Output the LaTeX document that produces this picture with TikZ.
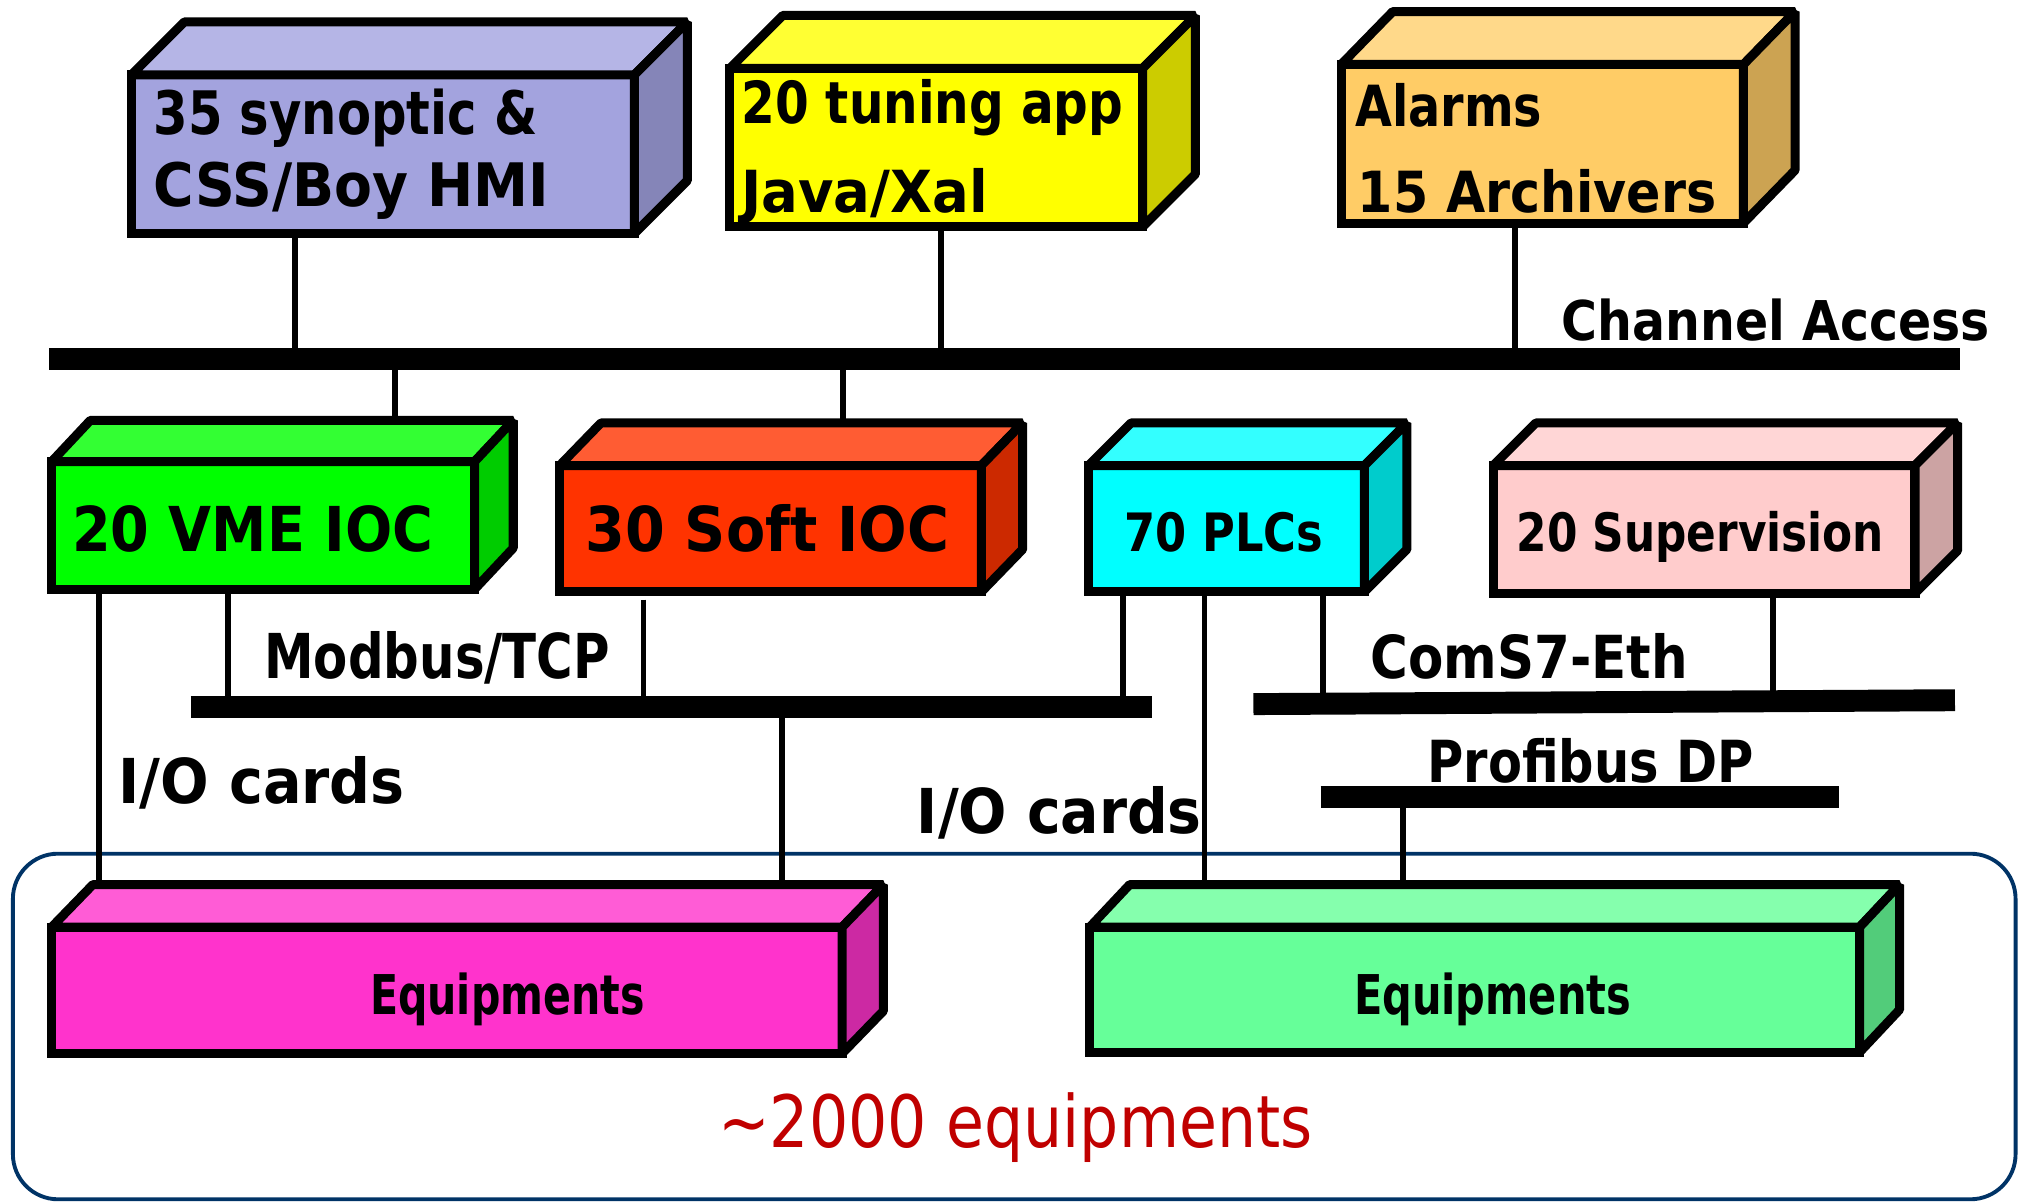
\documentclass[tikz,border=0pt]{standalone}
\usepackage{fontspec}
\setmainfont{DejaVu Sans}
\definecolor{synF}{HTML}{A3A3DE}\definecolor{synT}{HTML}{B5B5E6}\definecolor{synS}{HTML}{8585B8}
\definecolor{tunF}{HTML}{FFFF00}\definecolor{tunT}{HTML}{FFFF33}\definecolor{tunS}{HTML}{CCCC00}
\definecolor{almF}{HTML}{FFCC66}\definecolor{almT}{HTML}{FFD98A}\definecolor{almS}{HTML}{CCA352}
\definecolor{vmeF}{HTML}{00FF00}\definecolor{vmeT}{HTML}{33FF33}\definecolor{vmeS}{HTML}{00CC00}
\definecolor{sofF}{HTML}{FF3300}\definecolor{sofT}{HTML}{FF5C33}\definecolor{sofS}{HTML}{CC2900}
\definecolor{plcF}{HTML}{00FFFF}\definecolor{plcT}{HTML}{33FFFF}\definecolor{plcS}{HTML}{00CCCC}
\definecolor{supF}{HTML}{FFCCCC}\definecolor{supT}{HTML}{FFD6D6}\definecolor{supS}{HTML}{CCA3A3}
\definecolor{eqaF}{HTML}{FF33CC}\definecolor{eqaT}{HTML}{FF5CD6}\definecolor{eqaS}{HTML}{CC29A3}
\definecolor{eqbF}{HTML}{66FF99}\definecolor{eqbT}{HTML}{85FFAD}\definecolor{eqbS}{HTML}{52CC7A}
\definecolor{framecol}{HTML}{003366}
\definecolor{redtext}{HTML}{C00000}
\tikzset{
  frontface/.style={draw, rectangle, line width=7pt, line join=miter, outer sep=0pt, inner sep=0pt},
  sideface/.style={draw, line width=7pt, line join=bevel},
  conn/.style={line width=4.5pt},
  busline/.style={line width=17pt},
  lbl/.style={anchor=base west, inner sep=0pt, outer sep=0pt, font=\fontsize{#1}{#1}\selectfont\bfseries},
  framebox/.style={draw=framecol, line width=3pt, rounded corners=35pt}
}
% name, x1, y1, x2, y2, dx, dy, colour prefix
\newcommand\cubebox[8]{%
  \node[frontface, fill=#8F, minimum width={(#4-#2)*1pt}, minimum height={(#5-#3)*1pt}, anchor=north west] (#1) at (#2,#3) {};
  \draw[sideface, fill=#8T] (#1.north west) -- ++(#6,#7) -- ([shift={(#6,#7)}]#1.north east) -- (#1.north east) -- cycle;
  \draw[sideface, fill=#8S] (#1.north east) -- ++(#6,#7) -- ([shift={(#6,#7)}]#1.south east) -- (#1.south east) -- cycle;
  \coordinate (#1top) at ([shift={(#6,#7)}]#1.north);
}
\newcommand\fitw[2]{\resizebox{#1pt}{\height}{#2}}
\begin{document}
\begin{tikzpicture}[x=1pt,y=-1pt]
\useasboundingbox (0,0) rectangle (1568,932);
% frame
\draw[framebox] (10,662) rectangle (1563,930);
% buses
\coordinate (caL) at (38,278.5);   \coordinate (caR) at (1520,278.5);
\coordinate (mbL) at (148,548.5);  \coordinate (mbR) at (893,548.5);
\coordinate (csL) at (972,546);    \coordinate (csR) at (1516,543);
\coordinate (pbL) at (1024,618);   \coordinate (pbR) at (1426,618);
\draw[busline] (caL) -- (caR);
\draw[busline] (mbL) -- (mbR);
\draw[busline] (csL) -- (csR);
\draw[busline] (pbL) -- (pbR);
% connector feet on buses
\coordinate (ca1) at (228.5,278.5);
\coordinate (ca2) at (730,278.5);
\coordinate (ca3) at (1175,278.5);
\coordinate (ca4) at (306,278.5);
\coordinate (ca5) at (654,278.5);
\coordinate (mb1) at (177,548.5);
\coordinate (mb2) at (499,548.5);
\coordinate (mb3) at (871,548.5);
\coordinate (mb4) at (606.5,548.5);
\coordinate (cs1) at (1026,545.7);
\coordinate (cs2) at (1375,543.8);
\coordinate (pb1) at (1088,618);
\coordinate (vmeio) at (77,460);
\coordinate (plcio) at (934,460);
% cubes
\cubebox{syn}{102}{58}{492}{181}{41}{-41}{syn}
\cubebox{tun}{566}{53}{886}{176}{41}{-41}{tun}
\cubebox{alm}{1040}{50}{1352}{173}{40}{-41}{alm}
\cubebox{vme}{40}{358}{368}{457}{30}{-32}{vme}
\cubebox{sof}{434}{361}{761}{459}{32}{-33}{sof}
\cubebox{plc}{844}{361}{1058}{459}{33}{-33}{plc}
\cubebox{sup}{1158}{361}{1485}{460}{33}{-33}{sup}
\cubebox{eqa}{40}{719}{653}{817}{32}{-33}{eqa}
\cubebox{eqb}{845}{719}{1442}{816}{31}{-33}{eqb}
% connectors
\draw[conn] (syn.south -| ca1) -- (ca1);
\draw[conn] (tun.south -| ca2) -- (ca2);
\draw[conn] (alm.south -| ca3) -- (ca3);
\draw[conn] (ca4) -- (ca4 |- vmetop);
\draw[conn] (ca5) -- (ca5 |- softop);
\draw[conn] (vme.south -| vmeio) -- (vmeio |- eqatop);
\draw[conn] (vme.south -| mb1) -- (mb1);
\draw[conn] ([yshift=-6pt]sof.south -| mb2) -- (mb2);
\draw[conn] (plc.south -| mb3) -- (mb3);
\draw[conn] (mb4) -- (mb4 |- eqatop);
\draw[conn] (plc.south -| plcio) -- (plcio |- eqbtop);
\draw[conn] (plc.south -| cs1) -- (cs1);
\draw[conn] (sup.south -| cs2) -- (cs2);
\draw[conn] (pb1) -- (pb1 |- eqbtop);
% labels
\node[lbl=46.5] (t1a) at (119,104) {\fitw{298}{35 synoptic \&}};
\node[lbl=46.5] (t1b) at (119,160) {\fitw{307}{CSS/Boy HMI}};
\node[lbl=45] (t2a) at (575,96) {\fitw{296}{20 tuning app}};
\node[lbl=45] (t2b) at (575,165) {\fitw{191}{Java/Xal}};
\node[lbl=44] (t3a) at (1051,98) {\fitw{145}{Alarms}};
\node[lbl=44] (t3b) at (1053,165) {\fitw{278}{15 Archivers}};
\node[lbl=42.5] (tca) at (1211,264) {\fitw{332}{Channel Access}};
\node[lbl=48] (tvme) at (56,428) {\fitw{280}{20 VME IOC}};
\node[lbl=48] (tsof) at (454,428) {\fitw{282}{30 Soft IOC}};
\node[lbl=41] (tplc) at (872,428) {\fitw{154}{70 PLCs}};
\node[lbl=41] (tsup) at (1176,428) {\fitw{285}{20 Supervision}};
\node[lbl=48] (tmb) at (205,526) {\fitw{268}{Modbus/TCP}};
\node[lbl=48] (tio1) at (92,623) {\fitw{222}{I/O cards}};
\node[lbl=48] (tio2) at (711,646) {\fitw{221}{I/O cards}};
\node[lbl=46] (tcs) at (1063,526) {\fitw{246}{ComS7-Eth}};
\node[lbl=45] (tpb) at (1107,607) {\fitw{253}{Profibus DP}};
\node[lbl=42.5] (teqa) at (287,787) {\fitw{213}{Equipments}};
\node[lbl=42.5] (teqb) at (1050,787) {\fitw{215}{Equipments}};
\node[lbl=56, text=redtext, font=\fontsize{56}{56}\selectfont\mdseries] (ttot) at (557,890) {\fitw{461}{\textasciitilde2000 equipments}};
\end{tikzpicture}
\end{document}
